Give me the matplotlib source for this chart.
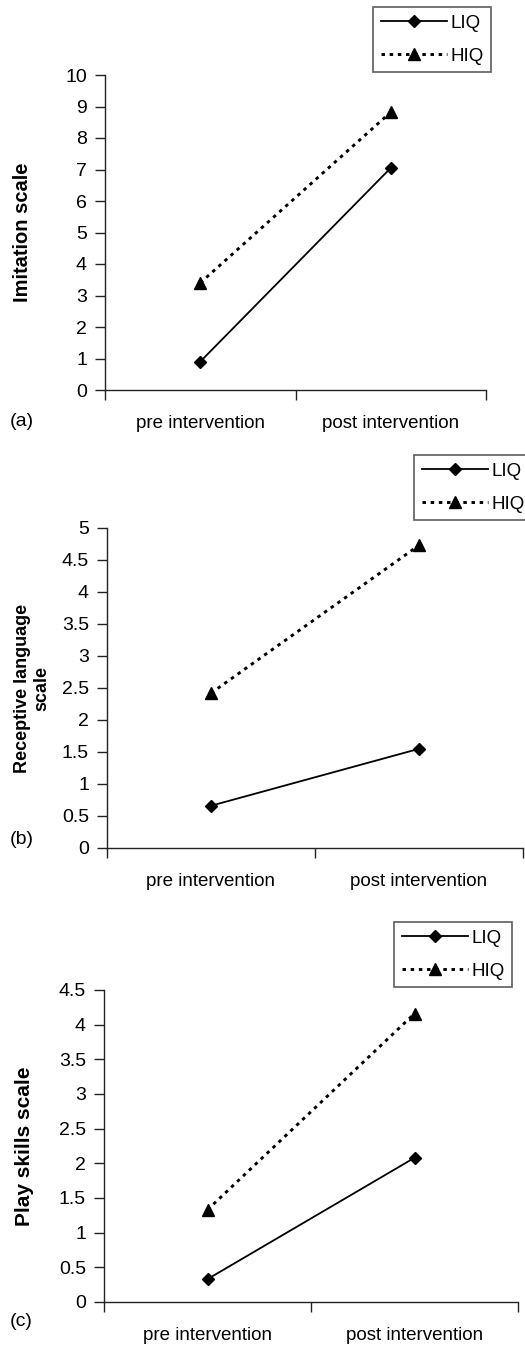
import matplotlib
matplotlib.use("Agg")
import matplotlib.pyplot as plt

plt.rcParams['font.family'] = ['Liberation Sans', 'DejaVu Sans']

categories = ["pre intervention", "post intervention"]
series_names = ["LIQ", "HIQ"]

imitation_liq = [0.9, 7.05]
imitation_hiq = [3.4, 8.82]
receptive_liq = [0.66, 1.55]
receptive_hiq = [2.42, 4.73]
play_liq = [0.33, 2.08]
play_hiq = [1.33, 4.16]

panels = [
    dict(liq=imitation_liq, hiq=imitation_hiq, ylabel="Imitation scale", ylabel_size=14.5,
         ymax=10, ystep=1, tag="(a)", fmt="{:g}"),
    dict(liq=receptive_liq, hiq=receptive_hiq, ylabel="Receptive language\nscale", ylabel_size=13,
         ymax=5, ystep=0.5, tag="(b)", fmt="{:g}"),
    dict(liq=play_liq, hiq=play_hiq, ylabel="Play skills scale", ylabel_size=15,
         ymax=4.5, ystep=0.5, tag="(c)", fmt="{:g}"),
]

W, H = 525, 1345
fig = plt.figure(figsize=(W / 100, H / 100), dpi=100)

# axes boxes in pixels: left, right, top, bottom
boxes = [(105, 486, 75, 390), (107, 523, 528, 848), (104, 518, 990, 1302)]
legend_corners = [(491, 7), (532, 455), (512, 922)]
tag_pos = [(10, 422), (10, 840), (10, 1322)]
ylabel_x = [23, 32, 25]

axis_color = "#222222"
for p, (l, r, t, b), (lx, ly), (tx, ty), ylx in zip(panels, boxes, legend_corners, tag_pos, ylabel_x):
    ax = fig.add_axes([l / W, 1 - b / H, (r - l) / W, (b - t) / H])
    x = list(range(len(categories)))
    ax.plot(x, p["liq"], color="black", lw=1.3, marker="D", markersize=6,
            label=series_names[0])
    ax.plot(x, p["hiq"], color="black", lw=2.1, linestyle=(0, (1.2, 1.6)), marker="^",
            markersize=9, label=series_names[1])
    ax.set_xlim(-0.5, 1.5)
    ax.set_ylim(0, p["ymax"])
    n = int(round(p["ymax"] / p["ystep"]))
    yt = [i * p["ystep"] for i in range(n + 1)]
    ax.set_yticks(yt)
    ax.set_yticklabels([p["fmt"].format(v) for v in yt])
    ax.set_xticks([-0.5, 0.5, 1.5])
    ax.set_xticklabels([])
    ax.set_xticks(x, minor=True)
    ax.set_xticklabels(categories, minor=True)
    ax.tick_params(axis="x", which="major", length=7, width=1, color=axis_color, direction="out")
    ax.tick_params(axis="x", which="minor", length=0, pad=18, labelsize=13.5)
    ax.tick_params(axis="y", length=7, width=1, color=axis_color, direction="out", pad=6, labelsize=14)
    for s in ["top", "right"]:
        ax.spines[s].set_visible(False)
    for s in ["left", "bottom"]:
        ax.spines[s].set_color(axis_color)
        ax.spines[s].set_linewidth(1.0)
    fig.text(ylx / W, 1 - ((t + b) / 2) / H, p["ylabel"], rotation=90, ha="center", va="center",
             fontsize=p["ylabel_size"], fontweight="bold", linespacing=1.15)
    fig.text(tx / W, 1 - ty / H, p["tag"], ha="left", va="center", fontsize=14)
    leg = ax.legend(loc="upper right", bbox_to_anchor=(lx / W, 1 - ly / H),
                    bbox_transform=fig.transFigure, frameon=True, fancybox=False,
                    edgecolor="#333333", fontsize=13.5, handlelength=3.5, borderpad=0.4,
                    labelspacing=0.85, handletextpad=0.2, borderaxespad=0)
    leg.get_frame().set_linewidth(1.2)

fig.savefig("out.png", dpi=100)
